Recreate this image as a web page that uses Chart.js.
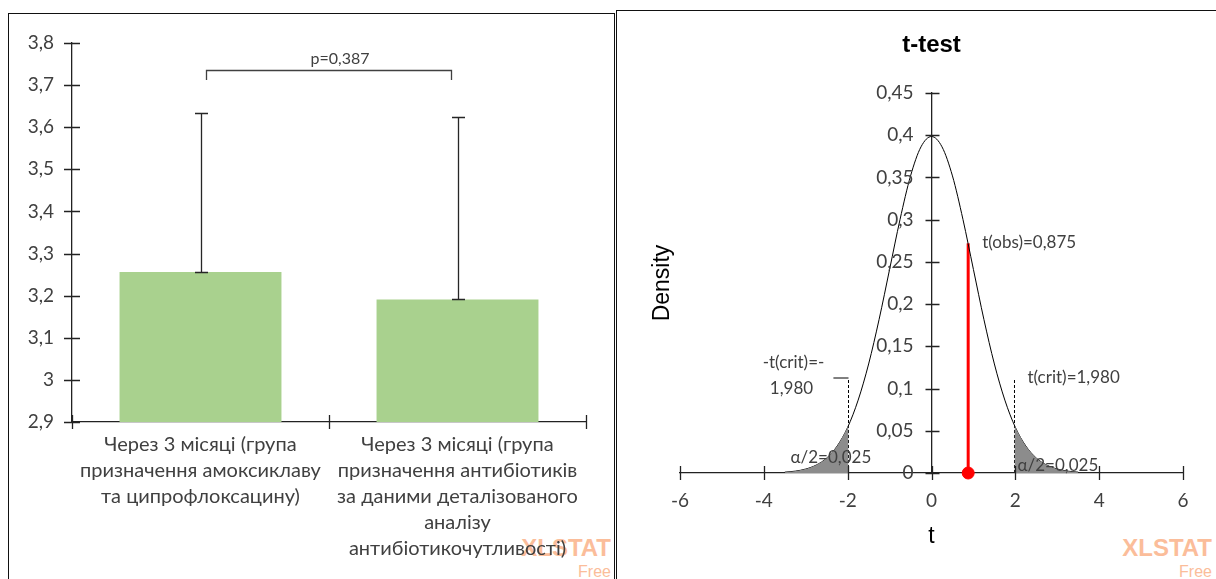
<!DOCTYPE html>
<html>
<head>
<meta charset="utf-8">
<script src="https://cdn.jsdelivr.net/npm/chart.js@4.4.1/dist/chart.umd.min.js"></script>
<style>
html,body{margin:0;padding:0;background:#fff;}
body{position:relative;width:1216px;height:579px;overflow:hidden;}
.panel{position:absolute;box-sizing:border-box;border:1.5px solid #111;border-bottom:none;}
#lp{left:8px;top:13px;width:607px;height:600px;}
#rp{left:616px;top:10px;width:620px;height:600px;}
.wm{position:absolute;font-family:"Liberation Sans",Arial,sans-serif;color:#fbbd9a;text-align:right;white-space:nowrap;z-index:0;}
.wm1{font-size:24px;line-height:24px;font-weight:bold;}
.wm2{font-size:16px;line-height:16px;}
canvas{position:absolute;z-index:1;}
#c1{left:0;top:0;}
#c2{left:616px;top:0;}
</style>
</head>
<body>
<div class="panel" id="lp"></div>
<div class="panel" id="rp"></div>
<div class="wm wm1" style="right:605px;top:536px;">XLSTAT</div>
<div class="wm wm2" style="right:605px;top:564px;">Free</div>
<div class="wm wm1" style="right:4px;top:536px;">XLSTAT</div>
<div class="wm wm2" style="right:4px;top:564px;">Free</div>
<canvas id="c1" width="614" height="579"></canvas>
<canvas id="c2" width="600" height="579"></canvas>
<script>
// ---------- Left chart data ----------
const categories = [
  ["Через 3 місяці (група", "призначення амоксиклаву", "та ципрофлоксацину)"],
  ["Через 3 місяці (група", "призначення антибіотиків", "за даними деталізованого", "аналізу", "антибіотикочутливості)"]
];
const means = [3.256, 3.191];
const errUpper = [0.378, 0.433];
const leftYMin = 2.9, leftYMax = 3.8, leftYStep = 0.1;
const pLabel = "p=0,387";

// ---------- Right chart data ----------
const tValues = [-3.5,-3.25,-3,-2.75,-2.5,-2.25,-2,-1.75,-1.5,-1.25,-1,-0.75,-0.5,-0.25,0,0.25,0.5,0.75,1,1.25,1.5,1.75,2,2.25,2.5,2.75,3,3.25,3.5];
const density = [0.0010,0.0022,0.0047,0.0094,0.0177,0.0320,0.0541,0.0863,0.1291,0.1819,0.2411,0.3004,0.3518,0.3863,0.3985,0.3863,0.3518,0.3004,0.2411,0.1819,0.1291,0.0863,0.0541,0.0320,0.0177,0.0094,0.0047,0.0022,0.0010];
const leftTailT = [-3.5,-3.25,-3,-2.75,-2.5,-2.25,-1.98];
const leftTailD = [0.0010,0.0022,0.0047,0.0094,0.0177,0.0320,0.0561];
const rightTailT = [1.98,2.25,2.5,2.75,3,3.25,3.5];
const rightTailD = [0.0561,0.0320,0.0177,0.0094,0.0047,0.0022,0.0010];
const tCrit = 1.980;
const critLineTop = 0.1125;
const tObs = 0.875;
const tObsDensity = 0.272;
const rightXMin = -6, rightXMax = 6, rightXStep = 2;
const rightYMin = 0, rightYMax = 0.45, rightYStep = 0.05;

const fmt = v => String(Math.round(v * 100) / 100).replace('.', ',');
const TXT = '#404040';
Chart.defaults.font.family = 'Lato, "Open Sans", sans-serif';

// crossing tick marks
function crossTicks(ctx, scale, axisPos, vertical, half, values) {
  ctx.save();
  ctx.strokeStyle = '#222';
  ctx.lineWidth = 1.3;
  ctx.beginPath();
  values.forEach(v => {
    const p = Math.round(scale.getPixelForValue(v)) + 0.5;
    if (vertical) { ctx.moveTo(axisPos - half, p); ctx.lineTo(axisPos + half, p); }
    else { ctx.moveTo(p, axisPos - half); ctx.lineTo(p, axisPos + half); }
  });
  ctx.stroke();
  ctx.restore();
}

const leftPlugin = {
  id: 'leftExtras',
  afterDraw(chart) {
    const ctx = chart.ctx, x = chart.scales.x, y = chart.scales.y, ca = chart.chartArea;
    crossTicks(ctx, y, ca.left, true, 8, y.ticks.map(t => t.value));
    const xv = [];
    for (let i = 0; i <= categories.length; i++) xv.push(i - 0.5);
    crossTicks(ctx, x, ca.bottom, false, 7, xv);
    const meta = chart.getDatasetMeta(0);
    ctx.save();
    ctx.strokeStyle = '#262626';
    ctx.lineWidth = 1.3;
    meta.data.forEach((bar, i) => {
      const cx = Math.round(bar.x) + 0.5;
      const yb = y.getPixelForValue(means[i]);
      const yt = Math.round(y.getPixelForValue(means[i] + errUpper[i])) + 0.5;
      ctx.beginPath();
      ctx.moveTo(cx, yb); ctx.lineTo(cx, yt);
      ctx.moveTo(cx - 6.5, yt); ctx.lineTo(cx + 6.5, yt);
      ctx.moveTo(cx - 6.5, Math.round(yb) + 0.5); ctx.lineTo(cx + 6.5, Math.round(yb) + 0.5);
      ctx.stroke();
    });
    const bl = meta.data[0].x + 6, br = meta.data[1].x - 6;
    const by = Math.round(y.getPixelForValue(3.736)) + 0.5;
    const bd = y.getPixelForValue(3.712);
    ctx.strokeStyle = '#404040';
    ctx.beginPath();
    ctx.moveTo(bl, bd); ctx.lineTo(bl, by); ctx.lineTo(br, by); ctx.lineTo(br, bd);
    ctx.stroke();
    ctx.fillStyle = TXT;
    ctx.font = '16px Lato, sans-serif';
    ctx.textAlign = 'center';
    ctx.textBaseline = 'middle';
    ctx.fillText(pLabel, (bl + br) / 2 + 11, by - 12);
    ctx.restore();
  }
};

new Chart(document.getElementById('c1'), {
  type: 'bar',
  data: {
    labels: categories,
    datasets: [{ data: means, backgroundColor: '#a9d18e', borderWidth: 0, barPercentage: 0.63, categoryPercentage: 1 }]
  },
  options: {
    responsive: false, animation: false, events: [],
    layout: { padding: { left: 0, top: 43, right: 28, bottom: 0 } },
    plugins: { legend: { display: false }, tooltip: { enabled: false } },
    scales: {
      x: {
        offset: true,
        grid: { display: false, drawTicks: false },
        border: { display: true, color: '#222', width: 1.3 },
        ticks: { color: TXT, font: { size: 20, lineHeight: 1.3 }, padding: 10, maxRotation: 0, minRotation: 0, autoSkip: false },
        afterFit(s) { s.height = 157; }
      },
      y: {
        min: leftYMin, max: leftYMax,
        grid: { display: false, drawTicks: false },
        border: { display: true, color: '#222', width: 1.3 },
        ticks: { stepSize: leftYStep, callback: fmt, color: TXT, font: { size: 19 }, padding: 18 },
        afterFit(s) { s.width = 72; }
      }
    }
  },
  plugins: [leftPlugin]
});

// ---------- Right chart ----------
const pts = (xs, ys) => xs.map((v, i) => ({ x: v, y: ys[i] }));
const annotations = [
  { text: 't(obs)=0,875', x: tObs, y: tObsDensity, dx: 14, dy: -1, align: 'left' },
  { text: '-t(crit)=-', x: -tCrit, y: critLineTop, dx: -55, dy: -15, align: 'center' },
  { text: '1,980', x: -tCrit, y: critLineTop, dx: -57, dy: 11, align: 'center' },
  { text: 't(crit)=1,980', x: tCrit, y: critLineTop, dx: 13, dy: 0, align: 'left' },
  { text: 'α/2=0,025', x: -tCrit, y: 0, dx: -58, dy: -15, align: 'left' },
  { text: 'α/2=0,025', x: tCrit, y: 0, dx: 3, dy: -7, align: 'left' }
];

const rightPlugin = {
  id: 'rightExtras',
  afterDraw(chart) {
    const ctx = chart.ctx, x = chart.scales.x, y = chart.scales.y, ca = chart.chartArea;
    const x0 = Math.round(x.getPixelForValue(0)) + 0.5;
    crossTicks(ctx, y, x0, true, 7, y.ticks.map(t => t.value));
    crossTicks(ctx, x, ca.bottom, false, 7, x.ticks.map(t => t.value));
    ctx.save();
    // y tick labels beside the centred axis
    ctx.fillStyle = TXT;
    ctx.font = '19px Lato, sans-serif';
    ctx.textAlign = 'right';
    ctx.textBaseline = 'middle';
    y.ticks.forEach(t => ctx.fillText(fmt(t.value), x0 - 19, y.getPixelForValue(t.value)));
    ctx.font = '17px Lato, sans-serif';
    annotations.forEach(a => {
      ctx.textAlign = a.align;
      ctx.fillText(a.text, x.getPixelForValue(a.x) + a.dx, y.getPixelForValue(a.y) + a.dy);
    });
    ctx.fillStyle = '#000';
    ctx.font = '23px "Liberation Sans", Arial, sans-serif';
    ctx.textAlign = 'center';
    ctx.fillText('t', x.getPixelForValue(0), ca.bottom + 64);
    ctx.translate(47, (ca.top + ca.bottom) / 2);
    ctx.rotate(-Math.PI / 2);
    ctx.fillText('Density', 0, 0);
    ctx.restore();
  }
};

new Chart(document.getElementById('c2'), {
  type: 'line',
  data: {
    datasets: [
      { data: pts(leftTailT, leftTailD), fill: 'origin', backgroundColor: '#8c8c8c', borderWidth: 0, pointRadius: 0, cubicInterpolationMode: 'monotone', clip: false },
      { data: pts(rightTailT, rightTailD), fill: 'origin', backgroundColor: '#8c8c8c', borderWidth: 0, pointRadius: 0, cubicInterpolationMode: 'monotone', clip: false },
      { data: pts(tValues, density), borderColor: '#000', borderWidth: 1, fill: false, pointRadius: 0, cubicInterpolationMode: 'monotone', clip: false },
      { data: [{ x: -tCrit, y: 0 }, { x: -tCrit, y: critLineTop }], borderColor: '#000', borderWidth: 1, borderDash: [3, 2], pointRadius: 0, fill: false, clip: false },
      { data: [{ x: -tCrit - 0.36, y: critLineTop }, { x: -tCrit, y: critLineTop }], borderColor: '#000', borderWidth: 1, pointRadius: 0, fill: false, clip: false },
      { data: [{ x: tCrit, y: 0 }, { x: tCrit, y: critLineTop }], borderColor: '#000', borderWidth: 1, borderDash: [3, 2], pointRadius: 0, fill: false, clip: false },
      { data: [{ x: tObs, y: 0 }, { x: tObs, y: tObsDensity }], borderColor: '#ff0000', borderWidth: 3, pointRadius: 0, fill: false, clip: false },
      { data: [{ x: tObs, y: 0 }], showLine: false, pointRadius: 6, pointBackgroundColor: '#ff0000', pointBorderColor: '#ff0000', clip: false }
    ]
  },
  options: {
    responsive: false, animation: false, events: [],
    layout: { padding: { left: 64, right: 33, top: 0, bottom: 0 } },
    plugins: {
      legend: { display: false }, tooltip: { enabled: false },
      title: { display: true, text: 't-test', color: '#000', font: { family: '"Liberation Sans", Arial, sans-serif', size: 24, weight: 'bold', lineHeight: 1 }, padding: { top: 33, bottom: 36 } }
    },
    scales: {
      x: {
        type: 'linear', min: rightXMin, max: rightXMax,
        grid: { display: false, drawTicks: false },
        border: { display: true, color: '#222', width: 1.3 },
        ticks: { stepSize: rightXStep, callback: fmt, color: TXT, font: { size: 19 }, padding: 16 },
        afterFit(s) { s.height = 106; }
      },
      y: {
        type: 'linear', position: { x: 0 }, min: rightYMin, max: rightYMax,
        grid: { display: false, drawTicks: false },
        border: { display: true, color: '#222', width: 1.3 },
        ticks: { display: false, stepSize: rightYStep }
      }
    }
  },
  plugins: [rightPlugin]
});
</script>
</body>
</html>
